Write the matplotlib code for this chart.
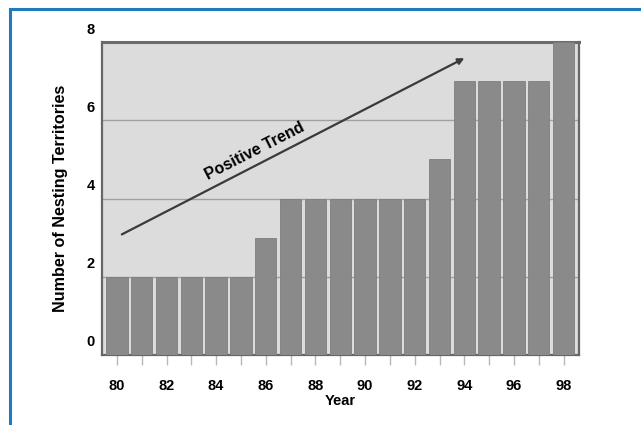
import matplotlib
matplotlib.use("Agg")
import matplotlib.pyplot as plt
from matplotlib.transforms import ScaledTranslation
from matplotlib.patches import FancyArrowPatch
import matplotlib.lines as mlines

years = list(range(80, 99))
territories = [2, 2, 2, 2, 2, 2, 3, 4, 4, 4, 4, 4, 4, 5, 7, 7, 7, 7, 8]
xtick_labels = ["80", "82", "84", "86", "88", "90", "92", "94", "96", "98"]
ytick_values = [0, 2, 4, 6, 8]
trend_start = (80.1, 3.05)
trend_end = (94.1, 7.62)

plt.rcParams['font.family'] = ['Liberation Sans', 'DejaVu Sans']
plt.rcParams['font.weight'] = 'bold'

W, H = 641, 425
fig = plt.figure(figsize=(W / 100, H / 100), dpi=100)
fig.patch.set_facecolor('white')

# blue frame (left and top)
blue = '#1f7bbd'
fig.add_artist(mlines.Line2D([10 / W, 10 / W], [0, 1 - 9 / H], color=blue, lw=2.2, transform=fig.transFigure))
fig.add_artist(mlines.Line2D([10 / W, 1], [1 - 9 / H, 1 - 9 / H], color=blue, lw=2.2, transform=fig.transFigure))

left, right, top, bottom = 102, 579, 42, 355
ax = fig.add_axes([left / W, 1 - bottom / H, (right - left) / W, (bottom - top) / H])
ax.set_facecolor('#dcdcdc')

ax.bar(years, territories, width=0.86, color='#8a8a8a', edgecolor='#7e7e7e', linewidth=0.6, zorder=3)
ax.set_xlim(79.4, 98.62)
ax.set_ylim(0, 8)

for y in [2, 4, 6]:
    ax.axhline(y, color='#a0a0a0', lw=1.0, zorder=1)

for s in ax.spines.values():
    s.set_color('#666666')
    s.set_linewidth(1.6)
ax.spines['top'].set_linewidth(2.2)
ax.spines['top'].set_color('#6a6a6a')

ax.set_xticks(years)
ax.set_xticklabels([str(y) if str(y) in xtick_labels else '' for y in years], fontsize=10.5, fontweight='bold')
ax.tick_params(axis='x', length=7, color='#b8b8b8', width=1, pad=10)

ax.set_yticks(ytick_values)
ax.set_yticklabels([str(v) for v in ytick_values], fontsize=10.5, fontweight='bold')
ax.tick_params(axis='y', length=0, pad=5)
off = ScaledTranslation(0, 14 / 100, fig.dpi_scale_trans)
for lbl in ax.get_yticklabels():
    lbl.set_transform(lbl.get_transform() + off)

ax.set_xlabel('Year', fontsize=10.5, fontweight='bold', labelpad=1)
fig.text(61 / W, 1 - 198 / H, 'Number of Nesting Territories', rotation=90,
         ha='center', va='center', fontsize=11.6, fontweight='bold')

arrow = FancyArrowPatch(trend_start, trend_end, arrowstyle='-|>', mutation_scale=9,
                        color='#3a3a3a', lw=1.6, zorder=5)
ax.add_patch(arrow)
ax.text(85.55, 5.22, 'Positive Trend', rotation=27, ha='center', va='center',
        fontsize=11.5, fontweight='bold', zorder=6)

fig.savefig('out.png', dpi=100)
